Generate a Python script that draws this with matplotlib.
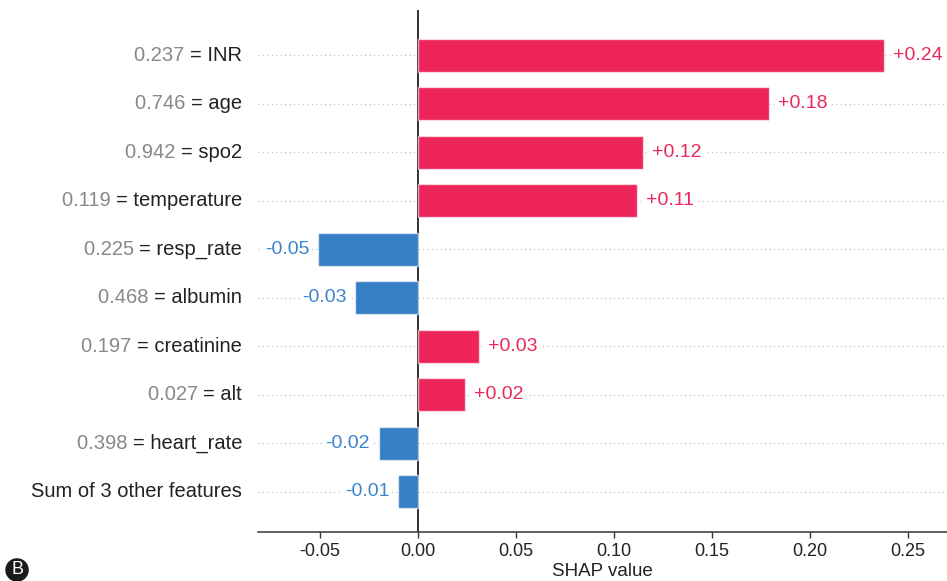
import numpy as np
import matplotlib
matplotlib.use("Agg")
import matplotlib.pyplot as plt
from matplotlib.ticker import FormatStrFormatter

plt.rcParams['font.family'] = ['Liberation Sans', 'DejaVu Sans']

# data
features = ["INR", "age", "spo2", "temperature", "resp_rate", "albumin",
            "creatinine", "alt", "heart_rate", "Sum of 3 other features"]
feature_values = ["0.237", "0.746", "0.942", "0.119", "0.225", "0.468",
                  "0.197", "0.027", "0.398", None]
shap_values = [0.238, 0.179, 0.115, 0.112, -0.051, -0.032, 0.031, 0.024, -0.020, -0.010]
value_labels = ["+0.24", "+0.18", "+0.12", "+0.11", "-0.05", "-0.03",
                "+0.03", "+0.02", "-0.02", "-0.01"]
xticks = [-0.05, 0.00, 0.05, 0.10, 0.15, 0.20, 0.25]

red = "#ee2558"
blue = "#3580c4"
red_txt = "#e8285a"
blue_txt = "#3a85cc"

fig = plt.figure(figsize=(9.47, 5.81), dpi=100)
ax = fig.add_axes([0.2725, 0.0843, 0.7275, 0.8985])

y = np.arange(len(features))
colors = [red if v > 0 else blue for v in shap_values]

# dotted row guides
for yi in y:
    ax.axhline(yi, color="#bbbbbb", lw=0.8, dashes=(1, 3), zorder=0)

ax.axvline(0, color="#222222", lw=1.3, zorder=1)
ax.barh(y, shap_values, 0.68, color=colors, edgecolor=(1, 1, 1, 0.6),
        linewidth=1, zorder=2)

# value labels next to the bars
off = 0.0045
box = dict(fc="white", ec="none", pad=1.5)
for yi, v, lab in zip(y, shap_values, value_labels):
    if v > 0:
        ax.text(v + off, yi, lab, ha="left", va="center", fontsize=14,
                color=red_txt, clip_on=False, bbox=box, zorder=3)
    else:
        ax.text(v - off, yi, lab, ha="right", va="center", fontsize=14,
                color=blue_txt, clip_on=False, bbox=box, zorder=3)

ax.set_xlim(-0.0816, 0.270)
ax.set_ylim(len(features) - 1 + 0.83, -0.93)

# feature labels: grey value + black name
ax.set_yticks([])
trans = ax.get_yaxis_transform()
for yi, name, fv in zip(y, features, feature_values):
    if fv is None:
        ax.text(-0.023, yi, name, transform=trans, ha="right", va="center",
                fontsize=14.5, color="#222222")
    else:
        t = ax.text(-0.023, yi, "= " + name, transform=trans, ha="right",
                    va="center", fontsize=14.5, color="#222222")
        ax.annotate(fv + " ", xy=(0, 0.5), xycoords=t, ha="right", va="center",
                    fontsize=14.5, color="#888888")

ax.set_xticks(xticks)
ax.xaxis.set_major_formatter(FormatStrFormatter("%.2f"))
ax.tick_params(axis="x", labelsize=13, color="#333333", length=4, width=1,
               labelcolor="#222222", pad=4)
for s in ["top", "right", "left"]:
    ax.spines[s].set_visible(False)
ax.spines["bottom"].set_color("#333333")
ax.spines["bottom"].set_linewidth(1.1)
ax.set_xlabel("SHAP value", fontsize=13.5, color="#222222", labelpad=2)

# panel badge
fig.text(0.018, 0.019, "B", fontsize=13, color="white", ha="center", va="center",
         bbox=dict(boxstyle="circle,pad=0.18", fc="#1a1a1a", ec="none"))

fig.savefig("out.png", dpi=100)
